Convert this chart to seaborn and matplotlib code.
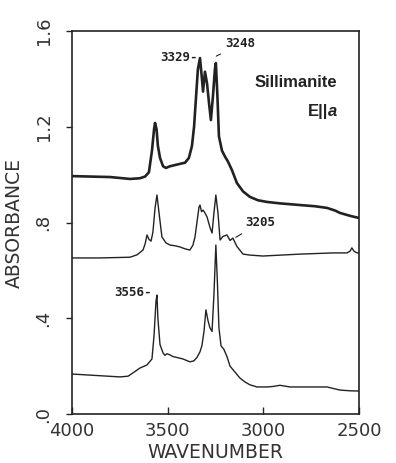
import matplotlib
matplotlib.use("Agg")
import matplotlib.pyplot as plt
import seaborn as sns
import pandas as pd

# ---- data ----
top_wn = [4000, 3906, 3801, 3697, 3645, 3618, 3598, 3582, 3571, 3566, 3558, 3551, 3540, 3524, 3509,
          3488, 3462, 3436, 3409, 3389, 3373, 3362, 3352, 3342, 3331, 3323, 3315, 3305, 3294, 3284,
          3274, 3263, 3253, 3248, 3240, 3232, 3216, 3200, 3185, 3164, 3138, 3106, 3070, 3028, 2981,
          2913, 2808, 2730, 2667, 2625, 2599, 2547, 2500]
top_abs = [0.994, 0.992, 0.990, 0.982, 0.985, 0.992, 1.010, 1.10, 1.19, 1.216, 1.19, 1.12, 1.07, 1.035, 1.028,
           1.035, 1.040, 1.045, 1.05, 1.07, 1.12, 1.20, 1.32, 1.44, 1.487, 1.42, 1.347, 1.43, 1.38, 1.30,
           1.228, 1.33, 1.44, 1.466, 1.33, 1.16, 1.10, 1.075, 1.055, 1.019, 0.965, 0.93, 0.907, 0.893, 0.886,
           0.880, 0.873, 0.868, 0.861, 0.850, 0.840, 0.828, 0.819]

mid_wn = [4000, 3854, 3697, 3660, 3629, 3618, 3608, 3598, 3587, 3577, 3566, 3556, 3545, 3530, 3509,
          3488, 3462, 3436, 3409, 3384, 3368, 3357, 3347, 3336, 3331, 3323, 3315, 3305, 3294, 3279,
          3268, 3258, 3248, 3237, 3226, 3211, 3190, 3174, 3159, 3138, 3106, 3070, 3002, 2808, 2636,
          2563, 2547, 2537, 2526, 2510, 2500]
mid_abs = [0.652, 0.652, 0.655, 0.665, 0.685, 0.71, 0.748, 0.73, 0.722, 0.76, 0.86, 0.915, 0.84, 0.74, 0.715,
           0.706, 0.703, 0.698, 0.690, 0.685, 0.705, 0.740, 0.80, 0.865, 0.873, 0.845, 0.852, 0.84, 0.823, 0.78,
           0.756, 0.84, 0.915, 0.84, 0.727, 0.742, 0.748, 0.725, 0.735, 0.70, 0.668, 0.664, 0.660, 0.668, 0.673,
           0.673, 0.68, 0.694, 0.68, 0.673, 0.673]

bot_wn = [4000, 3854, 3749, 3707, 3681, 3645, 3608, 3582, 3571, 3561, 3556, 3551, 3540, 3524, 3514,
          3504, 3488, 3472, 3451, 3420, 3384, 3363, 3347, 3331, 3321, 3310, 3300, 3289, 3279, 3268,
          3258, 3248, 3240, 3232, 3221, 3206, 3190, 3174, 3148, 3122, 3096, 3070, 3033, 2981, 2950,
          2913, 2861, 2808, 2667, 2599, 2547, 2500]
bot_abs = [0.167, 0.160, 0.155, 0.158, 0.172, 0.192, 0.205, 0.230, 0.33, 0.470, 0.497, 0.40, 0.29, 0.255, 0.245,
           0.252, 0.247, 0.24, 0.236, 0.230, 0.218, 0.222, 0.236, 0.26, 0.285, 0.345, 0.435, 0.39, 0.36, 0.345,
           0.50, 0.706, 0.55, 0.36, 0.285, 0.27, 0.24, 0.200, 0.175, 0.150, 0.134, 0.122, 0.113, 0.113, 0.115,
           0.120, 0.113, 0.113, 0.113, 0.100, 0.097, 0.096]

x_ticks = [4000, 3500, 3000, 2500]
x_ticklabels = ["4000", "3500", "3000", "2500"]
y_ticks = [0.0, 0.4, 0.8, 1.2, 1.6]
y_ticklabels = [".0", ".4", ".8", "1.2", "1.6"]

peak_labels = ["3329-", "3248", "3205", "3556-"]

# ---- plot ----
sns.set_style("ticks")
plt.rcParams["font.family"] = ["DejaVu Sans"]

fig = plt.figure(figsize=(3.96, 4.63), dpi=100)
ax = fig.add_axes([0.1818, 0.1058, 0.7247, 0.8272])

ink = "#222222"
for wn, ab, lw in [(top_wn, top_abs, 1.9), (mid_wn, mid_abs, 1.0), (bot_wn, bot_abs, 1.0)]:
    df = pd.DataFrame({"wavenumber": wn, "absorbance": ab})
    sns.lineplot(data=df, x="wavenumber", y="absorbance", ax=ax, color=ink, lw=lw,
                 sort=False, estimator=None)

ax.set_xlim(4000, 2500)
ax.set_ylim(0, 1.6)
ax.set_xticks(x_ticks)
ax.set_xticklabels(x_ticklabels)
ax.set_yticks(y_ticks)
ax.set_yticklabels(y_ticklabels, rotation=90, va="center")

tick_color = "#333333"
ax.tick_params(axis="x", direction="in", length=5, width=1, pad=6, labelsize=13, labelcolor=tick_color)
ax.tick_params(axis="y", direction="out", length=4, width=1, pad=10, labelsize=13, labelcolor=tick_color)
for s in ax.spines.values():
    s.set_linewidth(1.2)
    s.set_color(ink)
    s.set_visible(True)

ax.set_xlabel("WAVENUMBER", fontsize=13.5, color=tick_color, labelpad=2)
ax.set_ylabel("ABSORBANCE", fontsize=13.5, color=tick_color, labelpad=8)

lab_kw = dict(fontsize=9, fontweight="bold", color=ink, family="DejaVu Sans Mono")
ax.text(3342, 1.49, peak_labels[0], ha="right", va="center", **lab_kw)
ax.annotate(peak_labels[1], xy=(3246, 1.495), xytext=(3122, 1.546), ha="center", va="center",
            arrowprops=dict(arrowstyle="-", lw=0.8, color=ink, shrinkA=1, shrinkB=0), **lab_kw)
ax.annotate(peak_labels[2], xy=(3150, 0.735), xytext=(3017, 0.80), ha="center", va="center",
            arrowprops=dict(arrowstyle="-", lw=0.8, color=ink, shrinkA=2, shrinkB=1), **lab_kw)
ax.text(3582, 0.506, peak_labels[3], ha="right", va="center", **lab_kw)

ax.text(2615, 1.387, "Sillimanite", ha="right", va="center", fontsize=12, fontweight="bold",
        family="Liberation Sans", color=ink)
ax.text(2662, 1.262, "E||", ha="right", va="center", fontsize=12, fontweight="bold",
        family="Liberation Sans", color=ink)
ax.text(2662, 1.262, "a", ha="left", va="center", fontsize=12, fontweight="bold", style="italic",
        family="Liberation Sans", color=ink)

fig.savefig("out.png", dpi=100)
